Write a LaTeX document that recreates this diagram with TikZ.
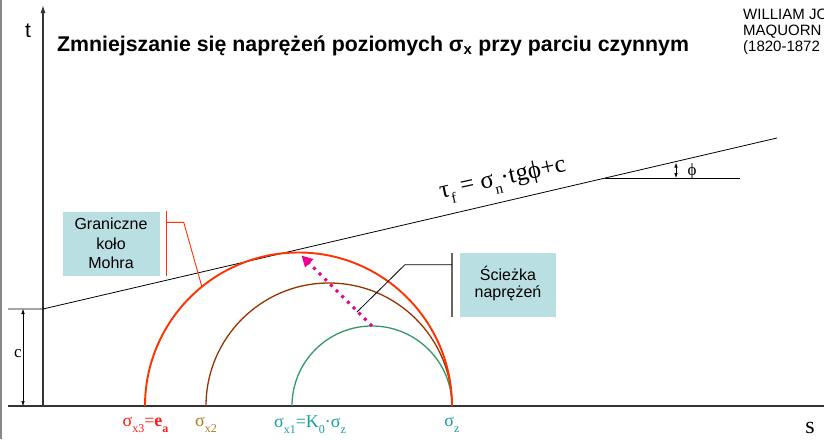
\documentclass[tikz,border=0pt]{standalone}
\usepackage{fontspec}
\setmainfont{Liberation Serif}
\newfontfamily\arialf{Liberation Sans}
\usetikzlibrary{arrows.meta,calc}
\definecolor{redc}{HTML}{FF3300}
\definecolor{brownc}{HTML}{993300}
\definecolor{greenc}{HTML}{339966}
\definecolor{boxc}{HTML}{BADFE3}
\definecolor{labred}{HTML}{FF1A1A}
\definecolor{labbrown}{HTML}{A67C1F}
\definecolor{labteal}{HTML}{1A9E9E}
\definecolor{axisc}{HTML}{333333}
\definecolor{framec}{HTML}{888888}
\newcommand{\lsub}[1]{\raisebox{-0.35em}{\fontsize{12}{12}\selectfont #1}}
\newcommand{\fsub}[1]{\raisebox{-0.3em}{\fontsize{15}{15}\selectfont #1}}
\begin{document}
\begin{tikzpicture}[x=1pt,y=-1pt,
  axisline/.style={draw=axisc,line width=1.2pt},
  thinline/.style={draw=black,line width=0.8pt},
  boxnode/.style={fill=boxc,minimum width=97pt,minimum height=64pt,align=center,
    font=\arialf\fontsize{16}{19.5}\selectfont,inner sep=0pt},
  axlabel/.style={inner sep=0pt},
  botlabel/.style={inner sep=0pt,font=\fontsize{18}{20}\selectfont},
  dimarrow/.style={{Latex[length=5pt,width=3.5pt]}-{Latex[length=5pt,width=3.5pt]}}
]
\useasboundingbox (0,0) rectangle (824,439);
\clip (0,0) rectangle (824,439);
\fill[white] (0,0) rectangle (824,439);
% frame edge
\draw[framec,line width=1.6pt] (1,0) -- (1,439);
% axes
\coordinate (O) at (43,406);
\coordinate (xs) at (8,406);
\coordinate (xe) at (824,406);
\coordinate (ytop) at (43,5);
\draw[axisline] (xs) -- (xe);
\draw[axisline,-{Latex[length=8pt,width=5pt]}] (O) -- (ytop);
\node[axlabel,font=\arialf\fontsize{21}{21}\selectfont] (tlab) at (28,31) {t};
\node[axlabel,font=\fontsize{24}{24}\selectfont] (slab) at (810,428) {s};
% failure envelope
\coordinate (Cs) at (8,309);
\coordinate (C) at (43,309);
\coordinate (Fe) at (777,138);
\draw[thinline] (Cs) -- (C) -- (Fe);
\node[axlabel,rotate=12.3,font=\fontsize{25}{25}\selectfont] (tf) at (503,180)
  {τ\fsub{f} = σ\fsub{n}·tgϕ+c};
% phi angle
\coordinate (P1) at (605,178.1);
\coordinate (P2) at (740,178.1);
\coordinate (A1) at (676,162.5);
\coordinate (A2) at (676,178.1);
\draw[thinline] (P1) -- (P2);
\draw[thinline,dimarrow] (A1) -- (A2);
\node[axlabel,font=\fontsize{17}{17}\selectfont] (phil) at (692,171) {ϕ};
% c dimension
\coordinate (D1) at (23,309);
\coordinate (D2) at (23,406);
\draw[black,line width=0.5pt,dimarrow] (D1) -- (D2);
\node[axlabel,font=\fontsize{17}{17}\selectfont] (clab) at (18,354) {c};
% Mohr circles
\coordinate (r0) at (145,406);
\coordinate (b0) at (206,406);
\coordinate (g0) at (292,406);
\coordinate (Z) at (452,406);
\coordinate (rc) at (298.5,406);
\coordinate (rt) at (298.5,252.5);
\coordinate (gt) at (372,326);
\draw[greenc,line width=1.3pt] (g0) arc[start angle=180,end angle=0,radius=80pt];
\draw[brownc,line width=1.3pt] (b0) arc[start angle=180,end angle=0,radius=123pt];
\draw[redc,line width=1.9pt] (r0) arc[start angle=180,end angle=0,radius=153.5pt];
% stress path
\draw[magenta,line width=3pt,dash pattern=on 3pt off 5pt,
  -{Triangle[length=11pt,width=11pt]}] (gt) -- ($(rt)+(3,3)$);
% labels at bottom
\node[botlabel,text=labred] (lx3) at (145.5,425) {σ\lsub{x3}=\textbf{e\lsub{a}}};
\node[botlabel,text=labbrown] (lx2) at (206,425) {σ\lsub{x2}};
\node[botlabel,text=labteal] (lx1) at (310,425) {σ\lsub{x1}=K\lsub{0}·σ\lsub{z}};
\node[botlabel,text=labteal] (lz) at (452,425) {σ\lsub{z}};
% callout boxes
\node[boxnode] (gk) at (111,243.5) {Graniczne\\koło\\Mohra};
\coordinate (rp) at ($(rc)+(-96.6,-119.3)$);
\draw[redc,line width=1pt] ([xshift=7pt]gk.north east) -- ([xshift=7pt]gk.south east);
\draw[redc,line width=0.9pt] ($(gk.north east)+(7,11)$) -- ($(gk.north east)+(24,11)$) -- (rp);
\node[boxnode,minimum width=96pt,minimum height=64pt] (sc) at (508,285) {\raisebox{6pt}{\shortstack{Ścieżka\\[2pt]naprężeń}}};
\coordinate (sp) at (357,312);
\draw[gray!80!black,line width=1.6pt] ([xshift=-8pt]sc.north west) -- ([xshift=-8pt]sc.south west);
\draw[thinline] ($(sc.north west)+(-8,12)$) -- ($(sc.north west)+(-55,12)$) -- (sp);
% title
\node[anchor=west,inner sep=0pt,font=\arialf\bfseries\fontsize{21.3}{24}\selectfont] (title) at (57,46)
  {Zmniejszanie się naprężeń poziomych σ\textsubscript{x} przy parciu czynnym};
\node[anchor=north west,inner sep=0pt,align=left,font=\arialf\fontsize{15}{16}\selectfont] (rank) at (743,9)
  {WILLIAM JO\\MAQUORN\\(1820-1872};
\end{tikzpicture}
\end{document}
